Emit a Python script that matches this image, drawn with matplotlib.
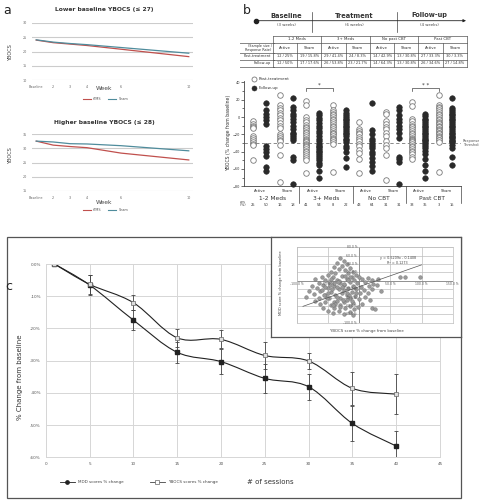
import numpy as np
import matplotlib
matplotlib.use('Agg')
import matplotlib.pyplot as plt
from matplotlib.path import Path
from matplotlib.patches import PathPatch, Rectangle

W, H = 479, 500

# ---------------- data ----------------
weeks = [1, 2, 3, 4, 6, 10]
week_labels = ['Baseline', '2', '3', '4', '6', '10']
low_rtms = [24.0, 23.1, 22.6, 22.1, 20.8, 18.2]
low_sham = [24.1, 23.3, 22.8, 22.4, 21.4, 19.4]
high_rtms = [32.5, 31.1, 30.6, 30.2, 28.3, 25.9]
high_sham = [32.5, 32.2, 31.6, 31.5, 30.9, 29.1]

groups = ['1-2 Meds', '3+ Meds', 'No CBT', 'Past CBT']
table_groups = ['1-2 Meds', '3+ Meds', 'No past CBT', 'Past CBT']
arms = ['Active', 'Sham']
post_cells = ['12 / 25%', '19 / 15.8%', '29 / 41.4%', '24 / 8.3%',
              '14 / 42.9%', '13 / 30.8%', '27 / 33.3%', '30 / 3.3%']
fu_cells = ['12 / 50%', '17 / 17.6%', '26 / 53.8%', '23 / 21.7%',
            '14 / 64.3%', '13 / 30.8%', '26 / 34.6%', '27 / 14.8%']
resp_rates = [25, 50, 16, 18, 41, 54, 8, 22, 43, 64, 31, 31, 33, 35, 3, 15]
threshold = -30

meds12 = [
    [-5, -8, -10, -12, -13, -22, -24, -27, -29, -31, -32, -50],
    [16, 8, 4, 0, -4, -8, -34, -37, -40, -45, -58, -62],
    [25, 14, 11, 8, 5, 2, -1, -4, -7, -10, -13, -20, -22, -24, -26, -28, -32, -44, -75],
    [22, 12, 8, 4, 1, -2, -6, -10, -14, -18, -20, -22, -24, -26, -46, -50, -77],
]
meds3 = [
    [18, 14, 0, -3, -6, -9, -11, -13, -15, -17, -19, -21, -23, -25, -27, -28, -29,
     -31, -32, -33, -35, -37, -39, -41, -43, -45, -47, -50, -65],
    [5, 2, -1, -4, -7, -10, -13, -16, -19, -22, -25, -28,
     -31, -33, -35, -37, -39, -41, -43, -45, -47, -50, -53, -56, -62, -70],
    [14, 8, 6, 4, 2, 0, -2, -4, -6, -8, -10, -12, -14, -16, -18, -19, -20, -22,
     -24, -25, -27, -29, -31, -64],
    [8, 5, 2, 0, -2, -4, -6, -8, -10, -12, -14, -16, -18, -20, -22, -25, -27, -29,
     -33, -36, -40, -47, -58],
]
nocbt = [
    [-6, -14, -16, -18, -20, -23, -25, -28, -31, -34, -38, -42, -48, -65],
    [16, -15, -20, -25, -28, -31, -33, -36, -40, -43, -47, -52, -57, -62],
    [6, 3, -5, -8, -11, -14, -18, -22, -28, -32, -36, -44, -73],
    [12, 8, 2, -2, -6, -10, -14, -18, -24, -46, -49, -52, -77],
]
pastcbt = [
    [17, 13, -2, -5, -8, -10, -12, -14, -16, -18, -20, -22, -24, -25, -26, -27, -28, -29,
     -31, -33, -35, -37, -39, -41, -43, -46, -48],
    [4, 1, -2, -4, -6, -8, -10, -12, -14, -16, -18, -20, -22, -24, -26, -27, -29,
     -31, -33, -36, -39, -43, -48, -55, -62, -70],
    [25, 14, 12, 10, 8, 6, 4, 2, 0, -2, -4, -6, -7, -8, -10, -11, -12, -14, -15, -16,
     -18, -19, -20, -22, -23, -24, -26, -27, -29, -64],
    [22, 10, 8, 6, 4, 2, 0, -2, -4, -6, -8, -10, -12, -14, -16, -18, -20, -22, -23,
     -24, -26, -28, -29, -32, -36, -46, -55],
]

sessions = [1, 5, 10, 15, 20, 25, 30, 35, 40]
mdd_change = [0, -6.5, -17.4, -27.4, -30.3, -35.5, -38.1, -49.5, -56.5]
mdd_err = [0, 3.0, 3.0, 3.2, 3.8, 4.4, 4.0, 5.4, 4.6]
ybocs_change = [0, -6.3, -12.0, -22.9, -23.4, -28.4, -30.1, -38.6, -40.4]
ybocs_err = [0, 3.0, 2.4, 2.8, 2.8, 4.1, 2.6, 5.2, 6.2]

inset_x = [-30, -25, -35, -20, -28, -40, -15, -33, -22, -45, -10, -38, -18, -5, -50, -28, -12,
           -42, 0, -60, -70, -55, -35, -20, -8, 5, 15, 20, -65, -48, -30, -15, -3, 10, 22,
           -75, -58, -40, -25, -10, 3, 16, -68, -50, -33, -18, -5, 8, 20, -80, -62, -45,
           -28, -12, 2, 14, -72, -55, -38, -20, -6, 10, -85, -65, -48, -30, -14, 0, 18,
           -70, -55, -40, -25, -10, 5, -62, -45, -30, -15, -2, 20, -58, -40, -22, -8, -50,
           -32, -15, 25, -42, -25, -10, 66, 73, 98, 30, 28, 35, -40, -35, -25, -50, -20,
           -35, -45, -15, -55, -5, -32, -24, -44, -36, -16, -60, -26, -8, -52, -38, -20,
           -30, -46, -12, -56, -22, -34, -42, -18, -28]
inset_y = [55, 48, 42, 40, 35, 33, 30, 28, 25, 22, 22, 18, 18, 15, 15, 12, 10,
           8, 8, 10, 5, 2, 3, 5, 2, 4, 6, 2, -5, -3, -5, -3, -6, -4, -8,
           -12, -10, -12, -10, -12, -14, -12, -18, -18, -20, -18, -20, -22, -20, -25, -25, -26,
           -28, -27, -28, -30, -32, -33, -34, -35, -36, -38, -38, -40, -41, -42, -42, -44, -45,
           -48, -50, -50, -50, -52, -55, -56, -58, -58, -60, -62, -65, -64, -66, -66, -68, -72,
           -72, -74, -68, -78, -80, -82, 8, 8, 8, 5, -10, -25, -5, -15, -22, -30, -45,
           -48, 5, 10, -15, -30, 0, -8, -20, -38, -35, -22, -45, -15, -42, -55, -28,
           -62, -10, -48, -35, 12, -2, -58, 2, -14]
fit_slope = 0.5209
fit_intercept = -14.08

# ---------------- figure helpers ----------------
fig = plt.figure(figsize=(W / 100, H / 100), dpi=100)


def px_axes(x0, y0, x1, y1):
    return fig.add_axes([x0 / W, 1 - y1 / H, (x1 - x0) / W, (y1 - y0) / H])


def ftxt(x, y, s, **kw):
    kw.setdefault('ha', 'center')
    kw.setdefault('va', 'center')
    return fig.text(x / W, 1 - y / H, s, **kw)


ov = px_axes(0, 0, W, H)
ov.set_xlim(0, W)
ov.set_ylim(H, 0)
ov.axis('off')

RED = '#c0504d'
TEAL = '#4f8c9c'

# ---------------- panel a ----------------
ftxt(7, 10, 'a', fontsize=9, color='#222')


def panel_a(box, ylim, rt, sh, title, ty, wy, ly, lab_y):
    ax = px_axes(*box)
    ax.plot(weeks, rt, color=RED, lw=0.9)
    ax.plot(weeks, sh, color=TEAL, lw=0.9)
    ax.set_xlim(0.75, 10.25)
    ax.set_ylim(*ylim)
    ax.set_yticks(np.arange(ylim[0], ylim[1] + 0.1, 5))
    ax.yaxis.grid(True, color='#cccccc', lw=0.8)
    ax.set_axisbelow(True)
    for s in ax.spines.values():
        s.set_visible(False)
    ax.set_xticks(weeks)
    ax.set_xticklabels(week_labels)
    ax.tick_params(length=0, labelsize=2.4, labelcolor='#666', pad=3.5)
    ftxt(104, ty, title, fontsize=4.3, fontweight='bold', color='#333')
    ftxt(104, wy, 'Week', fontsize=4.3, color='#444')
    ftxt(11, lab_y, 'YBOCS', fontsize=3.6, color='#444', rotation=90)
    ov.plot([83, 91], [ly, ly], color=RED, lw=0.8)
    ftxt(93, ly, 'rTMS', fontsize=2.4, color='#555', ha='left')
    ov.plot([108, 116], [ly, ly], color=TEAL, lw=0.8)
    ftxt(119, ly, 'Sham', fontsize=2.4, color='#555', ha='left')


panel_a((32, 23, 193, 80), (10, 30), low_rtms, low_sham,
        'Lower baseline YBOCS (\u2264 27)', 10, 89, 98.5, 53)
panel_a((32, 134, 193, 191), (15, 35), high_rtms, high_sham,
        'Higher baseline YBOCS (\u2264 28)', 122.5, 202, 210.3, 156)

# ---------------- panel b: timeline ----------------
ftxt(247, 10, 'b', fontsize=9, color='#222')
ov.annotate('', xy=(466, 20.7), xytext=(256, 20.7),
            arrowprops=dict(arrowstyle='-|>', color='#222', lw=0.6,
                            mutation_scale=4, shrinkA=0, shrinkB=0))
ov.plot([256], [20.7], marker='o', color='#222', ms=3)
for xd in (311.7, 396.7):
    ov.plot([xd, xd], [11.5, 31.5], color='#444', lw=0.5)
for xc, t1, t2 in [(286, 'Baseline', '(3 weeks)'), (354, 'Treatment', '(6 weeks)'),
                   (429, 'Follow-up', '(4 weeks)')]:
    ftxt(xc, 15.5, t1, fontsize=4.8, fontweight='bold', color='#333')
    ftxt(xc, 25.5, t2, fontsize=2.8, color='#444')

# ---------------- panel b: table ----------------
clipax = px_axes(240, 0, 275, 230)
clipax.set_xlim(240, 275)
clipax.set_ylim(230, 0)
clipax.axis('off')

tx0, cw = 273, 24.25
rows_y = [36, 42.8, 52.5, 59.7, 67]
tx1 = tx0 + 8 * cw
lc = '#555'
ov.plot([tx0, tx1], [36, 36], color=lc, lw=0.5)
for yy in rows_y[1:]:
    ov.plot([tx0, tx1], [yy, yy], color=lc, lw=0.5)
    clipax.plot([238, 275], [yy, yy], color=lc, lw=0.5, clip_on=True)
for i in range(9):
    y_top = 36 if i % 2 == 0 else 42.8
    ov.plot([tx0 + i * cw, tx0 + i * cw], [y_top, 67], color=lc, lw=0.5)
for g, name in enumerate(table_groups):
    ftxt(tx0 + (2 * g + 1) * cw, 39.4, name, fontsize=2.8, color='#333')
for i in range(8):
    xc = tx0 + (i + 0.5) * cw
    ftxt(xc, 47.6, arms[i % 2], fontsize=2.8, color='#333')
    ftxt(xc, 56.1, post_cells[i], fontsize=2.5, color='#333')
    ftxt(xc, 63.3, fu_cells[i], fontsize=2.5, color='#333')
clipax.text(271.5, 47.6, '(Sample size /\nResponse Rate)', fontsize=2.4, color='#333',
            ha='right', va='center', clip_on=True, linespacing=1.0)
clipax.text(271.5, 56.1, 'Post-treatment', fontsize=2.6, color='#333',
            ha='right', va='center', clip_on=True)
clipax.text(271.5, 63.3, 'Follow-up', fontsize=2.6, color='#333',
            ha='right', va='center', clip_on=True)
clipax.text(246, 203.5, 'Responses\nRate (%)', fontsize=2.4, color='#333',
            ha='right', va='center', clip_on=True, linespacing=1.0)

# ---------------- panel b: scatter ----------------
bx0, by0, bx1, by1 = 243.7, 80.7, 461.3, 186.2
axb = px_axes(bx0, by0, bx1, by1)
axb.set_xlim(0.3, 16.7)
axb.set_ylim(-80, 42)
all_cols = meds12 + meds3 + nocbt + pastcbt
for k, vals in enumerate(all_cols):
    pos = k + 1
    xs = [pos] * len(vals)
    if k % 2 == 0:
        axb.scatter(xs, vals, s=16, facecolor='white', edgecolor='#7a7a7a',
                    linewidths=0.6, zorder=3, clip_on=False)
    else:
        axb.scatter(xs, vals, s=16, facecolor='#2a2a2a', edgecolor='#2a2a2a',
                    linewidths=0.4, zorder=3, clip_on=False)
axb.axhline(threshold, color='#777', lw=0.6, ls=(0, (4, 3)), zorder=1)
for s in ('top', 'right'):
    axb.spines[s].set_visible(False)
for s in ('left', 'bottom'):
    axb.spines[s].set_color('#444')
    axb.spines[s].set_linewidth(0.6)
axb.set_yticks(np.arange(-80, 41, 20))
axb.set_yticks(np.arange(-80, 41, 10), minor=True)
axb.set_xticks([])
axb.tick_params(axis='y', labelsize=2.5, length=2, width=0.5, pad=0.8, colors='#333')
axb.tick_params(axis='y', which='minor', length=1.2, width=0.4)
axb.patch.set_alpha(0)
ftxt(229, 133, 'YBOCS (% change from baseline)', fontsize=3.3, color='#333', rotation=90)


def fy(ypx):
    return (by1 - ypx) / (by1 - by0)


xt = axb.get_xaxis_transform()
for g, name in enumerate(groups):
    base = 4 * g
    axb.text(base + 1.5, fy(190.5), arms[0], transform=xt, fontsize=2.8, color='#333',
             ha='center', va='center')
    axb.text(base + 3.6, fy(190.5), arms[1], transform=xt, fontsize=2.8, color='#333',
             ha='center', va='center')
    axb.text(base + 2.5, fy(198.5), name, transform=xt, fontsize=4.2, color='#333',
             ha='center', va='center')
for k, r in enumerate(resp_rates):
    axb.text(k + 1, fy(205.5), str(r), transform=xt, fontsize=2.6, color='#333',
             ha='center', va='center')
for xs_ in (4.5, 8.5, 12.5, 16.7):
    axb.plot([xs_, xs_], [0, fy(203)], transform=xt, color='#444', lw=0.5, clip_on=False)

for a0, a1, star in [(5, 7, '*'), (13, 15, '* *')]:
    axb.plot([a0, a0, a1, a1], [30.5, 33.5, 33.5, 30.5], color='#444', lw=0.5, clip_on=False)
    axb.text((a0 + a1) / 2, 37, star, fontsize=4, color='#333', ha='center', va='center')
axb.text(16.8, threshold, 'Response\nThreshold', fontsize=2.6, color='#555',
         ha='left', va='center', linespacing=1.0)

ov.plot([254], [78.5], marker='o', ms=3.6, mfc='white', mec='#7a7a7a', mew=0.6)
ov.plot([254], [87.5], marker='o', ms=3.6, mfc='#2a2a2a', mec='#2a2a2a', mew=0.4)
ftxt(259, 78.5, 'Post-treatment', fontsize=3, color='#333', ha='left')
ftxt(259, 87.5, 'Follow-up', fontsize=3, color='#333', ha='left')

# ---------------- panel c ----------------
ftxt(9, 287, 'c', fontsize=9, color='#222')
ov.add_patch(Rectangle((7, 237), 454, 261, fill=False, ec='#555', lw=0.9))

axc = px_axes(45.7, 264, 440, 457.3)
axc.set_xlim(0, 45)
axc.set_ylim(-60, 0)
axc.set_xticks(np.arange(0, 46, 5))
axc.set_yticks(np.arange(-60, 1, 10))
axc.set_yticklabels(['-60%', '-50%', '-40%', '-30%', '-20%', '-10%', '0.0%'])
axc.grid(True, color='#d6d6d6', lw=0.7)
axc.set_axisbelow(True)
for s in axc.spines.values():
    s.set_color('#d6d6d6')
    s.set_linewidth(0.7)
axc.tick_params(length=0, labelsize=3, labelcolor='#555', pad=3.5)


def smooth_path(xs, ys):
    pts = np.column_stack([xs, ys]).astype(float)
    n = len(pts)
    verts = [pts[0]]
    codes = [Path.MOVETO]
    for i in range(n - 1):
        p0 = pts[max(i - 1, 0)]
        p1 = pts[i]
        p2 = pts[i + 1]
        p3 = pts[min(i + 2, n - 1)]
        verts += [p1 + (p2 - p0) / 6, p2 - (p3 - p1) / 6, p2]
        codes += [Path.CURVE4] * 3
    return Path(verts, codes)


axc.add_patch(PathPatch(smooth_path(sessions, mdd_change), fill=False, ec='#222', lw=0.8))
axc.add_patch(PathPatch(smooth_path(sessions, ybocs_change), fill=False, ec='#222', lw=0.8))
axc.errorbar(sessions, mdd_change, yerr=mdd_err, fmt='none', ecolor='#444',
             elinewidth=0.6, capsize=1.5, capthick=0.6)
axc.errorbar(sessions, ybocs_change, yerr=ybocs_err, fmt='none', ecolor='#444',
             elinewidth=0.6, capsize=1.5, capthick=0.6)
axc.plot(sessions, mdd_change, ls='none', marker='s', ms=2.2, color='#222')
axc.plot(sessions, ybocs_change, ls='none', marker='s', ms=2.8, mfc='#dddddd', mec='#666',
         mew=0.5)

ftxt(20, 377, '% Change from baseline', fontsize=5, color='#333', rotation=90)
ftxt(270.5, 482, '# of sessions', fontsize=5, color='#333')
ov.plot([60, 75], [481.7, 481.7], color='#222', lw=0.6)
ov.plot([67.5], [481.7], marker='o', ms=2.4, color='#222')
ftxt(78, 481.7, 'MDD scores % change', fontsize=3, color='#444', ha='left')
ov.plot([150, 165], [481.7, 481.7], color='#444', lw=0.6)
ov.plot([157.5], [481.7], marker='s', ms=2.6, mfc='white', mec='#666', mew=0.5)
ftxt(168, 481.7, 'YBOCS scores % change', fontsize=3, color='#444', ha='left')

# inset
box = px_axes(271, 237, 461, 337)
box.set_xticks([])
box.set_yticks([])
for s in box.spines.values():
    s.set_color('#555')
    s.set_linewidth(0.9)

axi = px_axes(296.7, 247.3, 452.7, 322.7)
axi.set_xlim(-100, 150)
axi.set_ylim(-100, 80)
axi.set_xticks(np.arange(-100, 151, 50))
axi.set_yticks(np.arange(-100, 81, 20))
axi.grid(True, color='#bdbdbd', lw=0.5)
axi.set_axisbelow(True)
axi.tick_params(length=0, labelbottom=False, labelleft=False)
for s in axi.spines.values():
    s.set_color('#bdbdbd')
    s.set_linewidth(0.5)
axi.axhline(0, color='#888', lw=0.6, zorder=1)
axi.axvline(0, color='#888', lw=0.6, zorder=1)
axi.scatter(inset_x, inset_y, s=7, facecolor='#9a9a9a', edgecolor='#6f6f6f',
            linewidths=0.3, zorder=3)
fx = np.array([-90, 100])
axi.plot(fx, fit_slope * fx + fit_intercept, color='#555', lw=0.5, zorder=4)
for xv in (-100, -50, 50, 100, 150):
    axi.text(xv, -2, f'{xv:.1f} %', fontsize=2.2, color='#555', ha='center', va='top')
for yv in range(-100, 81, 20):
    if yv != 0:
        axi.text(-3, yv, f'{yv:.1f} %', fontsize=2.2, color='#555', ha='right', va='center')
axi.text(62, 49, f'y = {fit_slope:.4f}x - {abs(fit_intercept) / 100:.4f}\nR\u00b2 = 0.1273',
         fontsize=2.4, color='#444', ha='center', va='center', linespacing=1.2)
ftxt(367, 331, 'YBOCS score % change from baseline', fontsize=2.8, color='#444')
ftxt(281, 283, 'MDD score % change from baseline', fontsize=2.6, color='#444', rotation=90)

fig.savefig('out.png', dpi=100)
